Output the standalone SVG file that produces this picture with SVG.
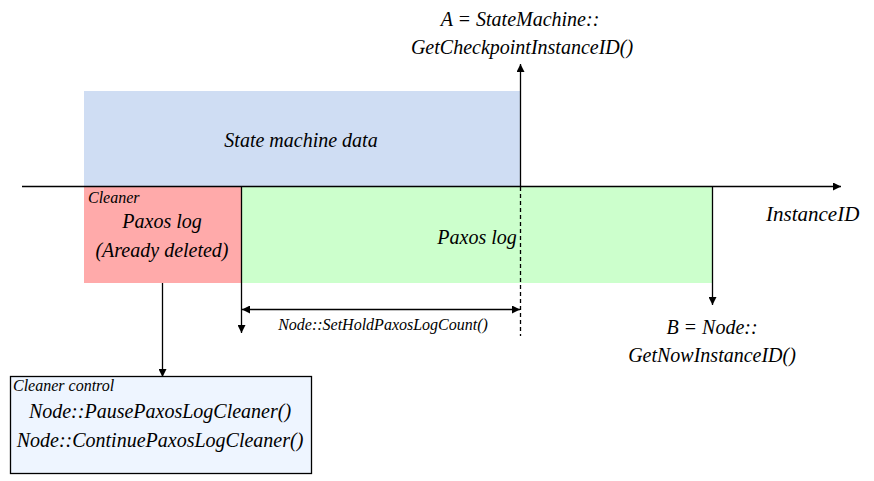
<svg xmlns="http://www.w3.org/2000/svg" width="874" height="481" viewBox="0 0 874 481">
<defs>
<marker id="ah" viewBox="0 0 10 10" refX="10" refY="5" markerWidth="8" markerHeight="8" markerUnits="userSpaceOnUse" orient="auto"><path d="M0,0 L10,5 L0,10 z" fill="#000"/></marker>
<marker id="as" viewBox="0 0 10 10" refX="0" refY="5" markerWidth="8" markerHeight="8" markerUnits="userSpaceOnUse" orient="auto"><path d="M10,0 L0,5 L10,10 z" fill="#000"/></marker>
</defs>
<g id="state-data"><rect x="84" y="91" width="436" height="95" fill="#cfddf3"/><text x="301" y="147" text-anchor="middle" font-family="Liberation Serif" font-style="italic" font-size="20">State machine data</text></g>
<g id="deleted-log"><rect x="84" y="187" width="157" height="96" fill="#ffaaaa"/><text x="88" y="203" font-family="Liberation Serif" font-style="italic" font-size="16">Cleaner</text><text x="162" y="228" text-anchor="middle" font-family="Liberation Serif" font-style="italic" font-size="20">Paxos log</text><text x="162" y="257" text-anchor="middle" font-family="Liberation Serif" font-style="italic" font-size="20">(Aready deleted)</text></g>
<g id="paxos-log"><rect x="241" y="187" width="471" height="96" fill="#ccffcc"/><text x="477" y="244" text-anchor="middle" font-family="Liberation Serif" font-style="italic" font-size="20">Paxos log</text></g>
<g id="cleaner-control"><rect x="10.5" y="376.5" width="301" height="97" fill="#eef5ff" stroke="#000" stroke-width="1.3"/><text x="13" y="391" font-family="Liberation Serif" font-style="italic" font-size="16">Cleaner control</text><text x="160" y="418" text-anchor="middle" font-family="Liberation Serif" font-style="italic" font-size="20">Node::PausePaxosLogCleaner()</text><text x="160" y="447" text-anchor="middle" font-family="Liberation Serif" font-style="italic" font-size="20">Node::ContinuePaxosLogCleaner()</text></g>
<g id="label-a"><text x="520" y="26" text-anchor="middle" font-family="Liberation Serif" font-style="italic" font-size="20">A = StateMachine::</text><text x="522" y="54" text-anchor="middle" font-family="Liberation Serif" font-style="italic" font-size="20">GetCheckpointInstanceID()</text></g>
<g id="label-b"><text x="712" y="334" text-anchor="middle" font-family="Liberation Serif" font-style="italic" font-size="20">B = Node::</text><text x="712" y="362" text-anchor="middle" font-family="Liberation Serif" font-style="italic" font-size="20">GetNowInstanceID()</text></g>
<g id="label-axis"><text x="766" y="221" font-family="Liberation Serif" font-style="italic" font-size="21">InstanceID</text></g>
<g id="label-hold"><text x="383" y="330" text-anchor="middle" font-family="Liberation Serif" font-style="italic" font-size="16">Node::SetHoldPaxosLogCount()</text></g>
<g id="connectors" stroke="#000" stroke-width="1.3" fill="none">
<line x1="22" y1="186.5" x2="841" y2="186.5" marker-end="url(#ah)"/>
<line x1="520.5" y1="186" x2="520.5" y2="64" marker-end="url(#ah)"/>
<line x1="520.5" y1="187" x2="520.5" y2="336" stroke-dasharray="4,3"/>
<line x1="241.5" y1="187" x2="241.5" y2="333" marker-end="url(#ah)"/>
<line x1="712.5" y1="187" x2="712.5" y2="305" marker-end="url(#ah)"/>
<line x1="242" y1="309.5" x2="520" y2="309.5" marker-start="url(#as)" marker-end="url(#ah)"/>
<line x1="162.5" y1="283" x2="162.5" y2="377" marker-end="url(#ah)"/>
</g>
</svg>
